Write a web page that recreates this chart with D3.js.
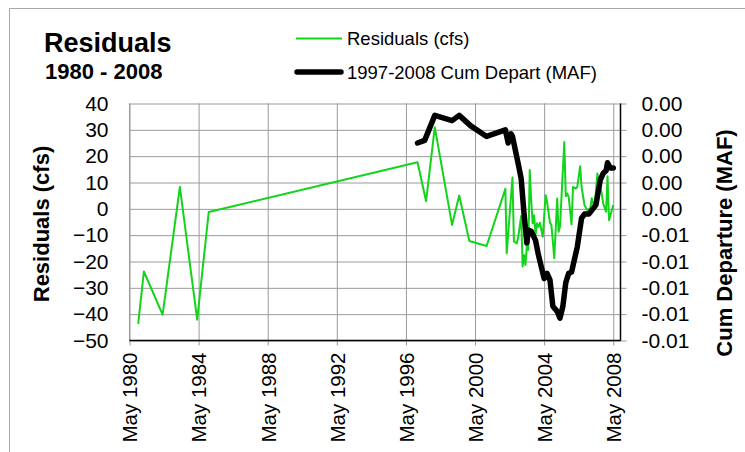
<!DOCTYPE html>
<html>
<head>
<meta charset="utf-8">
<script src="https://cdn.jsdelivr.net/npm/d3@7"></script>
<style>
  body { margin: 0; background: #fff; }
  svg { display: block; font-family: "Liberation Sans", Arial, sans-serif; }
  .grid line { stroke: #9a9a9a; stroke-width: 1; }
  .grid .domain { display: none; }
  .lbl text { fill: #000; font-family: "Liberation Sans", Arial, sans-serif; }
  .lbl .domain { display: none; }
</style>
</head>
<body>
<div id="chart"></div>
<script>
// residuals (cfs), monthly
var resDates = ["1980-11","1981-03","1982-04","1983-04","1984-04","1984-12","1997-01","1997-07","1998-01","1999-01",
  "1999-06","2000-01","2001-01","2002-02","2002-03","2002-07","2002-08","2002-10","2002-11","2003-01",
  "2003-02","2003-03","2003-04","2003-05","2003-06","2003-07","2003-08","2003-09","2003-10","2003-11",
  "2003-12","2004-01","2004-02","2004-04","2004-06","2004-07","2004-09","2004-10","2004-12","2005-02",
  "2005-03","2005-04","2005-07","2005-08","2005-09","2005-10","2005-12","2006-01","2006-03","2006-04",
  "2006-06","2006-07","2006-09","2006-11","2007-01","2007-02","2007-04","2007-06","2007-07","2007-09",
  "2007-10","2007-12","2008-01","2008-02","2008-03","2008-05"];
var resValues = [-43.7,-23.8,-40.2,8.3,-42.1,-1.2,17.7,2.9,31,-6.1,
  5.1,-12.2,-14.1,7.6,-16.9,11.9,-12.4,-13.1,-10.6,-2.7,
  -21.9,-17.5,-21.3,-14.3,-15.6,14.7,3.3,-5.5,-2.4,-9.9,
  -5.5,-6.8,-5.3,-10.6,5.2,2.7,-5.3,-6.1,-18.7,3.9,
  -8.7,-6.8,25.4,4.8,5.8,4.6,-5.9,8.3,7.7,8.3,
  16.2,8.3,1.4,-0.5,0.2,4,0.2,13.4,10.2,5.8,
  2.1,-1.1,12.4,-4.3,-2.4,1.4];

// 1997-2008 cumulative departure (MAF)
var cumDates = ["1997-01","1997-06","1998-01","1999-01","1999-06","2000-02","2001-01","2002-02","2002-04","2002-06",
  "2002-07","2002-11","2003-01","2003-03","2003-05","2003-06","2003-08","2003-11","2004-01","2004-05",
  "2004-07","2004-09","2004-11","2005-02","2005-04","2005-06","2005-08","2005-10","2005-12","2006-04",
  "2006-07","2006-09","2006-12","2007-05","2007-08","2007-10","2007-12","2008-01","2008-03","2008-05"];
var cumValues = [0.0010,0.0012,0.0031,0.0027,0.0031,0.0023,0.0015,0.0020,0.0010,0.0017,
  0.0015,-0.0006,-0.0017,-0.0043,-0.0066,-0.0056,-0.0057,-0.0064,-0.0075,-0.0093,
  -0.0089,-0.0094,-0.0114,-0.0118,-0.0123,-0.0114,-0.0096,-0.0089,-0.0088,-0.0069,
  -0.0047,-0.0044,-0.0044,-0.0037,-0.0018,-0.0013,-0.0011,-0.0005,-0.0009,-0.0009];

var xTickDates = ["1980-05","1984-05","1988-05","1992-05","1996-05","2000-05","2004-05","2008-05"];
var leftTicks = [40, 30, 20, 10, 0, -10, -20, -30, -40, -50];
var rightTicks = [0.004, 0.002, 0, -0.002, -0.004, -0.006, -0.008, -0.010, -0.012, -0.014];
var rightTickLabels = ["0.00","0.00","0.00","0.00","0.00","-0.01","-0.01","-0.01","-0.01","-0.01"];

var parseMonth = d3.timeParse("%Y-%m");
var fmtMonth = d3.timeFormat("%b %Y");

var W = 745, H = 452;
var plot = { left: 129.5, right: 620.5, top: 103.5, bottom: 340.5 };

var x = d3.scaleTime()
    .domain([parseMonth("1980-05"), parseMonth("2008-10")])
    .range([plot.left, plot.right]);
var yL = d3.scaleLinear().domain([-50, 40]).range([plot.bottom, plot.top]);
var yR = d3.scaleLinear().domain([-0.014, 0.004]).range([plot.bottom, plot.top]);

var svg = d3.select("#chart").append("svg")
    .attr("width", W).attr("height", H);

// chart frame (only top/left visible)
svg.append("path")
    .attr("d", "M9.5," + H + "V8.5H" + W)
    .attr("fill", "none").attr("stroke", "#a8a8a8");

// horizontal gridlines, extending past right axis as ticks
svg.append("g").attr("class", "grid")
    .attr("transform", "translate(" + plot.left + ",0)")
    .call(d3.axisLeft(yL).tickValues(leftTicks).tickFormat("")
        .tickSize(-(plot.right - plot.left + 6)).tickSizeOuter(0));

// vertical gridlines, extending below axis as ticks
var gx = svg.append("g").attr("class", "grid")
    .attr("transform", "translate(0," + plot.bottom + ")")
    .call(d3.axisBottom(x).tickValues(xTickDates.map(parseMonth)).tickFormat("")
        .tickSize(-(plot.bottom - plot.top)).tickSizeOuter(0));
gx.selectAll(".tick line").attr("y1", 5);
// left plot border
svg.append("line")
    .attr("x1", plot.left).attr("x2", plot.left)
    .attr("y1", plot.top).attr("y2", plot.bottom)
    .attr("stroke", "#9a9a9a");

// left tick labels
svg.append("g").attr("class", "lbl")
    .attr("transform", "translate(" + plot.left + ",0)")
    .call(d3.axisLeft(yL).tickValues(leftTicks).tickSize(0).tickPadding(21))
    .selectAll("text").style("font-size", "21px");

// right tick labels
svg.append("g").attr("class", "lbl")
    .attr("transform", "translate(" + plot.right + ",0)")
    .call(d3.axisRight(yR).tickValues(rightTicks).tickSize(0).tickPadding(21)
        .tickFormat(function (d, i) { return rightTickLabels[i]; }))
    .selectAll("text").style("font-size", "21px");

// bottom tick labels, rotated
svg.append("g").attr("class", "lbl")
    .attr("transform", "translate(0," + plot.bottom + ")")
    .call(d3.axisBottom(x).tickValues(xTickDates.map(parseMonth)).tickSize(0)
        .tickFormat(fmtMonth))
    .selectAll("text")
    .style("font-size", "20.5px")
    .style("text-anchor", "end")
    .attr("x", -12)
    .attr("y", 0)
    .attr("dy", ".36em")
    .attr("transform", "rotate(-90)");

// axis lines
svg.append("line")
    .attr("x1", plot.left).attr("x2", plot.right)
    .attr("y1", plot.bottom).attr("y2", plot.bottom)
    .attr("stroke", "#000").attr("stroke-width", 1.5);
svg.append("line")
    .attr("x1", plot.right).attr("x2", plot.right)
    .attr("y1", plot.top).attr("y2", plot.bottom)
    .attr("stroke", "#000").attr("stroke-width", 1.5);

// series
var resData = resDates.map(function (d, i) { return { date: parseMonth(d), v: resValues[i] }; });
var cumData = cumDates.map(function (d, i) { return { date: parseMonth(d), v: cumValues[i] }; });

svg.append("path")
    .datum(resData)
    .attr("fill", "none")
    .attr("stroke", "#12d41a")
    .attr("stroke-width", 2)
    .attr("stroke-linejoin", "round")
    .attr("d", d3.line().x(function (d) { return x(d.date); }).y(function (d) { return yL(d.v); }));

svg.append("path")
    .datum(cumData)
    .attr("fill", "none")
    .attr("stroke", "#000")
    .attr("stroke-width", 5.5)
    .attr("stroke-linejoin", "round")
    .attr("stroke-linecap", "round")
    .attr("d", d3.line().x(function (d) { return x(d.date); }).y(function (d) { return yR(d.v); }));

// titles
svg.append("text").attr("x", 44).attr("y", 52)
    .style("font-size", "27px").style("font-weight", "bold").text("Residuals");
svg.append("text").attr("x", 45).attr("y", 78.5)
    .style("font-size", "22px").style("font-weight", "bold").text("1980 - 2008");

svg.append("text")
    .attr("transform", "translate(49," + ((plot.top + plot.bottom) / 2 + 2) + ") rotate(-90)")
    .style("text-anchor", "middle").style("font-size", "22px").style("font-weight", "bold")
    .text("Residuals (cfs)");
svg.append("text")
    .attr("transform", "translate(732," + ((plot.top + plot.bottom) / 2 + 21) + ") rotate(-90)")
    .style("text-anchor", "middle").style("font-size", "22px").style("font-weight", "bold")
    .text("Cum Departure (MAF)");

// legend
var legend = svg.append("g");
legend.append("line").attr("x1", 296).attr("x2", 342).attr("y1", 38.5).attr("y2", 38.5)
    .attr("stroke", "#12d41a").attr("stroke-width", 2);
legend.append("text").attr("x", 347).attr("y", 45)
    .style("font-size", "18.5px").text("Residuals (cfs)");
legend.append("line").attr("x1", 297).attr("x2", 341).attr("y1", 72).attr("y2", 72)
    .attr("stroke", "#000").attr("stroke-width", 5.5).attr("stroke-linecap", "round");
legend.append("text").attr("x", 347).attr("y", 78.5)
    .style("font-size", "18.5px").text("1997-2008 Cum Depart (MAF)");
</script>
</body>
</html>
